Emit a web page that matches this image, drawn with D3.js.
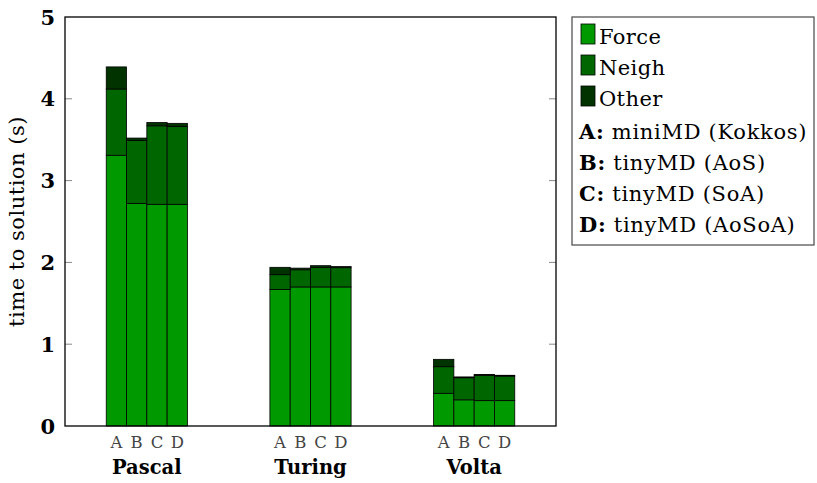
<!DOCTYPE html>
<html>
<head>
<meta charset="utf-8">
<script src="https://cdn.jsdelivr.net/npm/d3@7"></script>
<style>
  body { margin: 0; background: #fff; }
</style>
</head>
<body>
<div id="chart"></div>
<script>
const groups = ["Pascal", "Turing", "Volta"];
const variants = ["A", "B", "C", "D"];
const parts = ["Force", "Neigh", "Other"];

// values per group, in variant order A..D
const force = [[3.31, 2.72, 2.71, 2.71], [1.67, 1.70, 1.70, 1.70], [0.40, 0.32, 0.31, 0.31]];
const neigh = [[0.81, 0.77, 0.96, 0.95], [0.18, 0.21, 0.24, 0.235], [0.325, 0.27, 0.31, 0.30]];
const other = [[0.27, 0.03, 0.04, 0.04], [0.09, 0.02, 0.02, 0.015], [0.09, 0.01, 0.01, 0.01]];

const yTicks = [0, 1, 2, 3, 4, 5];
const legendNotes = [["A:", "miniMD (Kokkos)"], ["B:", "tinyMD (AoS)"], ["C:", "tinyMD (SoA)"], ["D:", "tinyMD (AoSoA)"]];
const colors = ["#009900", "#006600", "#003300"];

const FONT = "'DejaVu Serif', 'Liberation Serif', serif";

const width = 817, height = 483;
const margin = {top: 17, right: 261, bottom: 57, left: 65};
const w = width - margin.left - margin.right;
const h = height - margin.top - margin.bottom;

const svg = d3.select("#chart").append("svg")
    .attr("width", width)
    .attr("height", height);
const g = svg.append("g")
    .attr("transform", "translate(" + margin.left + "," + margin.top + ")");

const x = d3.scaleBand().domain(groups).range([0, w]);
const barW = 20.3;
const xs = d3.scaleBand().domain(variants).range([0, barW * 4]);
const y = d3.scaleLinear().domain([0, 5]).range([h, 0]);

// build stacked rows
const rows = [];
groups.forEach(function (grp, gi) {
    variants.forEach(function (v, vi) {
        rows.push({group: grp, variant: v, Force: force[gi][vi], Neigh: neigh[gi][vi], Other: other[gi][vi]});
    });
});
const stacked = d3.stack().keys(parts)(rows);

stacked.forEach(function (layer, li) {
    g.append("g").selectAll("rect")
        .data(layer)
        .enter()
        .append("rect")
        .attr("x", function (d) {
            return x(d.data.group) + x.bandwidth() / 2 - barW * 2 + xs(d.data.variant);
        })
        .attr("y", function (d) { return y(d[1]); })
        .attr("width", xs.bandwidth())
        .attr("height", function (d) { return y(d[0]) - y(d[1]); })
        .attr("fill", colors[li])
        .attr("stroke", "#000")
        .attr("stroke-width", 0.8);
});

// ticks left and right
const tickG = g.append("g");
yTicks.forEach(function (t) {
    if (t > 0 && t < 5) {
        tickG.append("line").attr("x1", 0).attr("x2", 7).attr("y1", y(t)).attr("y2", y(t))
            .attr("stroke", "#888").attr("stroke-width", 1);
        tickG.append("line").attr("x1", w - 7).attr("x2", w).attr("y1", y(t)).attr("y2", y(t))
            .attr("stroke", "#888").attr("stroke-width", 1);
    }
    g.append("text")
        .attr("x", -10)
        .attr("y", y(t))
        .attr("dy", "0.36em")
        .attr("text-anchor", "end")
        .style("font-family", FONT)
        .style("font-size", "21px")
        .style("font-weight", "bold")
        .text(t);
});

g.append("rect")
    .attr("width", w).attr("height", h)
    .attr("fill", "none").attr("stroke", "#000").attr("stroke-width", 1.3);

// x labels
groups.forEach(function (grp) {
    variants.forEach(function (v) {
        g.append("text")
            .attr("x", x(grp) + x.bandwidth() / 2 - barW * 2 + xs(v) + xs.bandwidth() / 2)
            .attr("y", h + 22)
            .attr("text-anchor", "middle")
            .style("font-family", FONT)
            .style("font-size", "16.5px")
            .style("fill", "#444")
            .text(v);
    });
    g.append("text")
        .attr("x", x(grp) + x.bandwidth() / 2)
        .attr("y", h + 48)
        .attr("text-anchor", "middle")
        .style("font-family", FONT)
        .style("font-size", "19.5px")
        .style("font-weight", "bold")
        .text(grp);
});

g.append("text")
    .attr("transform", "translate(-41," + (h / 2) + ")rotate(-90)")
    .attr("text-anchor", "middle")
    .style("font-family", FONT)
    .style("font-size", "21px")
    .style("letter-spacing", "0.5px")
    .text("time to solution (s)");

// legend
const lg = svg.append("g").attr("transform", "translate(572,17)");
lg.append("rect")
    .attr("width", 242).attr("height", 228)
    .attr("fill", "#fff").attr("stroke", "#555").attr("stroke-width", 1.3);
parts.forEach(function (p, i) {
    lg.append("rect")
        .attr("x", 9).attr("y", 7 + i * 31)
        .attr("width", 14).attr("height", 20)
        .attr("fill", colors[i]).attr("stroke", "#000").attr("stroke-width", 0.8);
    lg.append("text")
        .attr("x", 27).attr("y", 27 + i * 31)
        .style("font-family", FONT)
        .style("font-size", "21px")
        .style("letter-spacing", "0.4px")
        .text(p);
});
legendNotes.forEach(function (n, i) {
    const t = lg.append("text")
        .attr("x", 7).attr("y", 122 + i * 31)
        .style("font-family", FONT)
        .style("font-size", "21px")
        .style("letter-spacing", "0.7px");
    t.append("tspan").style("font-weight", "bold").text(n[0]);
    t.append("tspan").text(" " + n[1]);
});
</script>
</body>
</html>
